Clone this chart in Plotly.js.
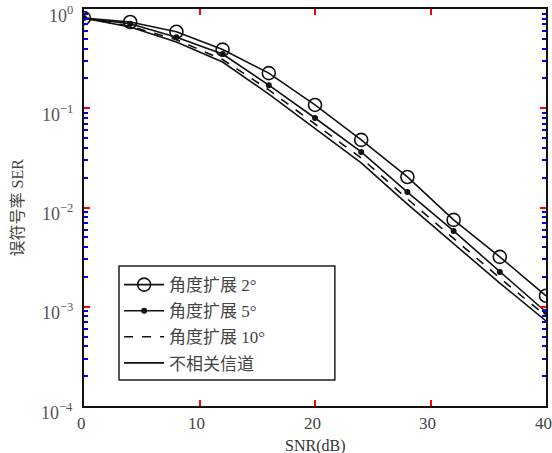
<!DOCTYPE html>
<html><head><meta charset="utf-8">
<script src="https://cdn.plot.ly/plotly-3.0.1.min.js"></script>
<style>body{margin:0;background:#fff}#c{width:552px;height:453px}</style>
</head><body><div id="c"></div>
<script>
const snr = [0,4,8,12,16,20,24,28,32,36,40];
const ser2 = [0.81,0.74,0.59,0.39,0.226,0.108,0.048,0.0203,0.0075,0.00318,0.00129];
const ser5 = [0.81,0.71,0.52,0.352,0.171,0.0798,0.0363,0.0143,0.0058,0.00224,0.000885];
const ser10 = [0.81,0.67,0.49,0.31,0.153,0.0693,0.0315,0.0122,0.00493,0.00195,0.000807];
const serUncorr = [0.81,0.66,0.465,0.292,0.139,0.063,0.0281,0.0108,0.00428,0.00173,0.00072];
const names = ['角度扩展 2°','角度扩展 5°','角度扩展 10°','不相关信道'];
const yTickVals = [1e-4,1e-3,1e-2,1e-1,1];
const yTickText = ['10<sup>−4</sup>','10<sup>−3</sup>','10<sup>−2</sup>','10<sup>−1</sup>','10<sup>0</sup>'];
const xTickVals = [0,10,20,30,40];
const xTickText = ['0','10','20','30','40'];
const xTitle = 'SNR(dB)';
const yTitle = '误符号率 SER';

const serif = 'Liberation Serif, "Noto Sans CJK SC", serif';
const lineW = 1.6;
const traces = [
  {x:snr,y:ser2,name:names[0],mode:'lines+markers',legendgroup:'a',
   line:{color:'#111',width:lineW},marker:{symbol:'circle-open',size:13,color:'#111',line:{width:1.6}}},
  {x:snr,y:ser5,name:names[1],mode:'lines+markers',legendgroup:'b',
   line:{color:'#111',width:lineW},marker:{symbol:'circle',size:6,color:'#111'}},
  {x:snr,y:ser10,name:names[2],mode:'lines',legendgroup:'c',
   line:{color:'#111',width:lineW,dash:'dash'}},
  {x:snr,y:serUncorr,name:names[3],mode:'lines',legendgroup:'d',
   line:{color:'#111',width:lineW}}
];
const annotations = [];
xTickVals.forEach((v,i) => annotations.push({x:v,xref:'x',y:0,yref:'paper',text:xTickText[i],
  showarrow:false,xanchor:'center',yanchor:'top',yshift:-6,xshift:-3,
  font:{family:serif,size:17,color:'#444'}}));
yTickVals.forEach((v,i) => annotations.push({x:0,xref:'paper',y:Math.log10(v),yref:'y',text:yTickText[i],
  showarrow:false,xanchor:'right',yanchor:'middle',xshift:-9,yshift:-5,
  font:{family:serif,size:18,color:'#555'}}));
annotations.push({x:0.5,xref:'paper',y:-0.1,yref:'paper',text:xTitle,showarrow:false,
  xanchor:'center',yanchor:'middle',font:{family:serif,size:16,color:'#333'}});
annotations.push({x:-0.143,xref:'paper',y:0.5,yref:'paper',text:yTitle,showarrow:false,textangle:-90,
  xanchor:'center',yanchor:'middle',font:{family:serif,size:16,color:'#444'}});

const layout = {
  width:552,height:453,
  margin:{l:84,r:6,t:9,b:47},
  showlegend:true,
  font:{family:serif,color:'#333',size:15},
  xaxis:{range:[0,40],tickmode:'linear',tick0:0,dtick:10,ticks:'inside',ticklen:6,tickwidth:2,tickcolor:'red',
    gridcolor:'rgba(0,0,0,0)',zerolinecolor:'#111',zerolinewidth:1.5,
    showline:true,linecolor:'#111',linewidth:1.5,mirror:'allticks',showticklabels:false},
  yaxis:{type:'log',range:[-4,0],tickmode:'linear',tick0:0,dtick:1,ticks:'inside',ticklen:6,tickwidth:2,tickcolor:'red',
    gridcolor:'rgba(0,0,0,0)',
    minor:{ticks:'inside',ticklen:4,tickwidth:1.5,tickcolor:'blue'},
    showline:true,linecolor:'#111',linewidth:1.5,mirror:'allticks',showticklabels:false},
  annotations:annotations,
  legend:{x:0.076,y:0.35,xanchor:'left',yanchor:'top',bgcolor:'rgba(0,0,0,0)',
    borderwidth:0,tracegroupgap:1,itemwidth:40,
    font:{family:'Liberation Serif, "Noto Sans CJK SC", serif',size:17,color:'#444'}},
  shapes:[{type:'rect',xref:'paper',yref:'paper',x0:0.0758,x1:0.543,y0:0.0655,y1:0.3526,
    line:{color:'#222',width:1.5},fillcolor:'#fff',layer:'below'}]
};
Plotly.newPlot('c',traces,layout,{displayModeBar:false});
</script></body></html>
